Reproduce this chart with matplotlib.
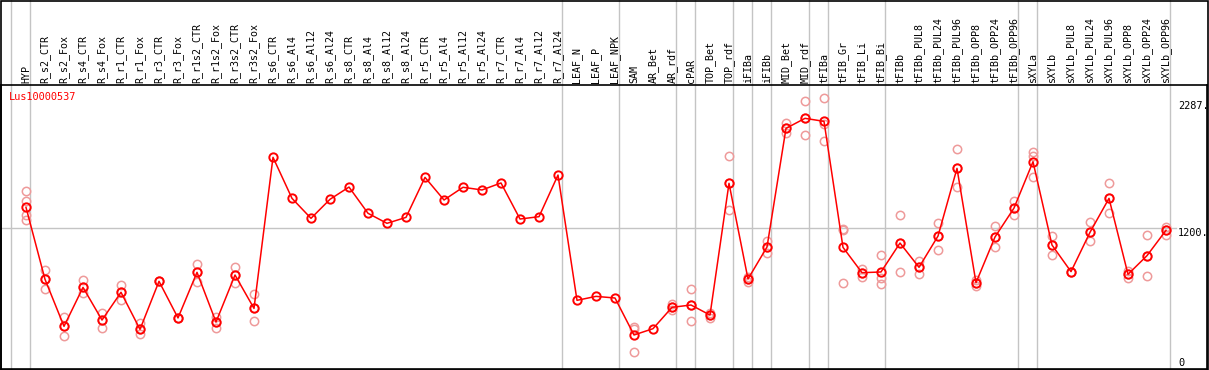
import matplotlib
matplotlib.use("Agg")
import matplotlib.pyplot as plt
from matplotlib.transforms import blended_transform_factory

# --- data -------------------------------------------------------------
gene = "Lus10000537"

samples = [
    "HYP", "R_s2_CTR", "R_s2_Fox", "R_s4_CTR", "R_s4_Fox", "R_r1_CTR", "R_r1_Fox",
    "R_r3_CTR", "R_r3_Fox", "R_r1s2_CTR", "R_r1s2_Fox", "R_r3s2_CTR", "R_r3s2_Fox",
    "R_s6_CTR", "R_s6_Al4", "R_s6_Al12", "R_s6_Al24", "R_s8_CTR", "R_s8_Al4",
    "R_s8_Al12", "R_s8_Al24", "R_r5_CTR", "R_r5_Al4", "R_r5_Al12", "R_r5_Al24",
    "R_r7_CTR", "R_r7_Al4", "R_r7_Al12", "R_r7_Al24", "LEAF_N", "LEAF_P", "LEAF_NPK",
    "SAM", "AR_Bet", "AR_rdf", "cPAR", "TOP_Bet", "TOP_rdf", "iFIBa", "iFIBb",
    "MID_Bet", "MID_rdf", "tFIBa", "tFIB_Gr", "tFIB_Li", "tFIB_Bi", "tFIBb",
    "tFIBb_PUL8", "tFIBb_PUL24", "tFIBb_PUL96", "tFIBb_OPP8", "tFIBb_OPP24",
    "tFIBb_OPP96", "sXYLa", "sXYLb", "sXYLb_PUL8", "sXYLb_PUL24", "sXYLb_PUL96",
    "sXYLb_OPP8", "sXYLb_OPP24", "sXYLb_OPP96",
]

means = [
    1377, 760, 357, 691, 411, 649, 331, 743, 429, 820, 394, 797, 511,
    1806, 1454, 1283, 1446, 1551, 1326, 1240, 1291, 1634, 1440, 1549, 1526,
    1586, 1277, 1297, 1654, 580, 614, 600,
    283, 337, 520, 540, 454, 1583, 763, 1037,
    2054, 2140, 2114, 1034, 817, 823, 1071,
    863, 1131, 1711, 731, 1123, 1371,
    1768, 1054, 826, 1163, 1454, 803, 963, 1180,
]

replicates = [
    [1517, 1431, 1311, 1268], [840, 760, 674], [440, 357, 271], [754, 691, 640],
    [474, 411, 340], [711, 649, 583], [383, 331, 289], [743, 743], [429, 429],
    [891, 820, 740], [440, 394, 343], [866, 797, 726], [634, 511, 400],
    [], [], [], [], [], [], [], [], [], [], [], [], [], [], [], [],
    [], [], [],
    [354, 331, 134], [], [546, 520, 497], [674, 540, 403], [431, 454, 469],
    [1814, 1583, 1351], [734, 763, 783], [1089, 1037, 983],
    [2097, 2054, 2011], [2288, 2140, 1994], [2311, 2089, 1943],
    [1191, 1183, 729], [846, 817, 777], [969, 769, 720], [1311, 1071, 823],
    [917, 863, 803], [1240, 1131, 1009], [1874, 1711, 1554],
    [754, 731, 706], [1217, 1123, 1034], [1431, 1371, 1309],
    [1854, 1817, 1640], [1131, 1054, 969], [826, 826], [1249, 1163, 1086],
    [1583, 1454, 1326], [834, 803, 774], [1137, 963, 791], [1211, 1180, 1140],
]

# last sample index of each group (vertical separators)
group_ends = [-1, 0, 28, 31, 34, 35, 37, 38, 39, 41, 42, 45, 52, 53, 60]
ref_level = 1200
tick_values = [2287, 1200]

# --- figure -------------------------------------------------------------
W, H = 1209, 370
fig = plt.figure(figsize=(W / 100, H / 100), dpi=100)

top_px, bot_px, left_px, right_px = 85, 369, 1, 1207
ax = fig.add_axes([left_px / W, (H - bot_px) / H,
                   (right_px - left_px) / W, (bot_px - top_px) / H])

# x: index 0 at px 26, 19 px per sample; y: 0 at px 368, 1200 at px 228
x0, dx = 26, 19
ax.set_xlim((left_px - x0) / dx, (right_px - x0) / dx)
scale = 1200 / 140
ax.set_ylim((368 - bot_px) * scale, (368 - top_px) * scale)
ax.set_xticks([])
ax.set_yticks([])
for s in ax.spines.values():
    s.set_color("black")
    s.set_linewidth(1.2)

mono = "DejaVu Sans Mono"
grey = "#c4c4c4"

# separators, running up through the label band
extra = bot_px / (bot_px - top_px)
for g in group_ends:
    ax.axvline(g + 4 / dx, ymin=0, ymax=extra, color=grey, lw=1, clip_on=False, zorder=0)

# reference line at 1200
ax.axhline(ref_level, xmin=0, xmax=(1176 - left_px) / (right_px - left_px),
           color=grey, lw=1, zorder=0)

idx = list(range(len(samples)))

# replicate points
rx, ry = [], []
for i, reps in zip(idx, replicates):
    for v in reps:
        rx.append(i)
        ry.append(v)
ax.plot(rx, ry, ls="none", marker="o", ms=6, mfc="none", mec="#ee9a9a", mew=1.1, zorder=2)

# mean profile
ax.plot(idx, means, color="red", lw=1.1, marker="o", ms=6, mfc="none",
        mec="red", mew=1.4, zorder=3)

# sample labels above the plot
trans = blended_transform_factory(ax.transData, ax.transAxes)
for i, name in zip(idx, samples):
    ax.text(i, 1.008, name, rotation=90, ha="center", va="bottom",
            fontsize=7.2, family=mono, transform=trans, clip_on=False)

# gene name
ax.text(8 / (right_px - left_px), 0.975, gene, color="red", fontsize=7.4,
        family=mono, ha="left", va="top", transform=ax.transAxes)

# value labels on the right
xt = (1178 - x0) / dx
for v in tick_values:
    ax.text(xt, v, f"{v}.", fontsize=7.4, family=mono, ha="left", va="top")
ax.text(xt, 0, "0", fontsize=7.4, family=mono, ha="left", va="bottom")

# outer frame
fig.patches.append(plt.Rectangle((0.5 / W, 0.5 / H), (W - 2) / W, (H - 1.5) / H,
                                 transform=fig.transFigure, fill=False,
                                 edgecolor="black", lw=1.2))

fig.savefig("out.png", dpi=100)
